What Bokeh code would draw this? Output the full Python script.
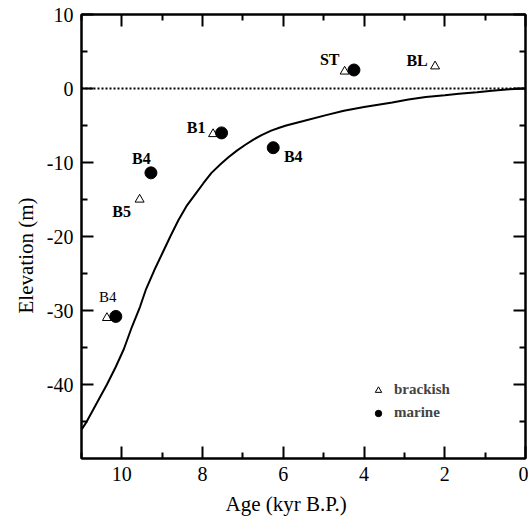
from bokeh.plotting import figure
from bokeh.models import Range1d, LinearAxis, FixedTicker, Span, Legend, LegendItem, ColumnDataSource, Title
from bokeh.core.properties import value
from bokeh.embed import file_html
from bokeh.resources import INLINE

# ---- data ----
curve_age = [11.0, 10.88, 10.6, 10.37, 10.15, 9.95, 9.75, 9.55, 9.4, 9.2, 9.0, 8.8, 8.6, 8.4,
             8.17, 7.98, 7.78, 7.55, 7.36, 7.15, 6.94, 6.74, 6.54, 6.3, 6.1, 5.93, 5.5, 4.94,
             4.5, 4.0, 3.3, 2.9, 2.47, 2.0, 1.65, 1.2, 0.83, 0.4, 0.0]
curve_elev = [-46.1, -45.1, -42.3, -40.0, -37.6, -35.2, -32.2, -29.5, -27.1, -24.6, -22.3, -20.0,
              -17.8, -15.9, -14.2, -12.8, -11.4, -10.2, -9.3, -8.4, -7.6, -6.9, -6.3, -5.7, -5.3,
              -5.0, -4.4, -3.6, -3.0, -2.5, -1.9, -1.5, -1.15, -0.9, -0.7, -0.5, -0.3, -0.1, 0.0]

marine_age = [10.15, 9.28, 7.53, 6.25, 4.25]
marine_elev = [-30.8, -11.4, -6.0, -8.0, 2.5]
brackish_age = [10.37, 9.56, 7.74, 4.48, 2.24]
brackish_elev = [-31.0, -15.0, -6.15, 2.3, 3.0]

# labels: (text, anchor kind, anchor index)
label_text = ["B4", "B4", "B5", "B1", "B4", "ST", "BL"]
label_kind = ["marine", "marine", "brackish", "brackish", "marine", "brackish", "brackish"]
label_index = [0, 1, 1, 2, 3, 3, 4]
label_bold = [False, True, True, True, True, True, True]

x_major = [10, 8, 6, 4, 2, 0]
x_minor = [11, 9, 7, 5, 3, 1]
y_major = [-40, -30, -20, -10, 0, 10]
y_minor = [-45, -35, -25, -15, -5, 5]

x_title = "Age (kyr B.P.)"
y_title = "Elevation (m)"

# ---- styles ----
label_dx = [-8, -9.5, -18, -17, 20, -15, -18]
label_dy = [-19, -14, 12, -7, 9, -12, -6]
FONT = "Liberation Serif"

p = figure(width=528, height=525, output_backend="svg", toolbar_location=None,
           x_range=Range1d(11, 0), y_range=Range1d(-50, 10),
           min_border_left=81, min_border_right=3, min_border_top=14, min_border_bottom=67)
p.grid.visible = False
p.outline_line_color = "black"
p.outline_line_width = 2
p.background_fill_color = None
p.border_fill_color = None

xt = FixedTicker(ticks=x_major, minor_ticks=x_minor)
yt = FixedTicker(ticks=y_major, minor_ticks=y_minor)

def style_axis(ax, ticks, labels=True):
    ax.axis_line_width = 2
    ax.axis_line_color = "black"
    ax.major_tick_in = 12
    ax.major_tick_out = 0
    ax.minor_tick_in = 6
    ax.minor_tick_out = 0
    ax.major_tick_line_width = 2
    ax.minor_tick_line_width = 2
    ax.major_tick_line_color = "black"
    ax.minor_tick_line_color = "black"
    ax.major_label_text_font = FONT
    ax.major_label_text_color = "black"
    if labels:
        ax.major_label_text_font_size = "20px"
        ax.major_label_overrides = {t: str(t) for t in ticks}
    else:
        ax.major_label_text_font_size = "0px"
        ax.major_label_overrides = {t: "" for t in ticks}
        ax.major_label_standoff = 0

xa = p.xaxis[0]
ya = p.yaxis[0]
xa.ticker = xt
ya.ticker = yt
style_axis(xa, x_major)
style_axis(ya, y_major)
xa.major_label_standoff = 8
ya.major_label_standoff = 8
ya.major_label_orientation = "horizontal"

top = LinearAxis(ticker=xt)
right = LinearAxis(ticker=yt)
style_axis(top, x_major, labels=False)
style_axis(right, y_major, labels=False)
p.add_layout(top, "above")
p.add_layout(right, "right")

# axis titles as side-panel titles (allow off-centre placement like the reference)
p.add_layout(Title(text=x_title, align="left", offset=144, standoff=12,
                   text_font=FONT, text_font_size="21px", text_font_style="normal",
                   text_color="black"), "below")
p.add_layout(Title(text=y_title, align="left", offset=145, standoff=12,
                   text_font=FONT, text_font_size="21px", text_font_style="normal",
                   text_color="black"), "left")

p.add_layout(Span(location=0, dimension="width", line_color="black",
                  line_width=2, line_dash="2 2"))

p.line(curve_age, curve_elev, line_color="black", line_width=2)

r_tri = p.scatter(brackish_age, brackish_elev, marker="triangle", size=9,
                  fill_color=None, line_color="black", line_width=1)
r_cir = p.scatter(marine_age, marine_elev, marker="circle", size=12,
                  fill_color="black", line_color="black")

lx, ly = [], []
for k, i in zip(label_kind, label_index):
    if k == "marine":
        lx.append(marine_age[i]); ly.append(marine_elev[i])
    else:
        lx.append(brackish_age[i]); ly.append(brackish_elev[i])

for bold in (True, False):
    idx = [j for j in range(len(label_text)) if label_bold[j] == bold]
    src = ColumnDataSource(dict(x=[lx[j] for j in idx], y=[ly[j] for j in idx],
                                t=[label_text[j] for j in idx],
                                dx=[label_dx[j] for j in idx], dy=[label_dy[j] for j in idx]))
    p.text(x="x", y="y", text="t", x_offset="dx", y_offset="dy", source=src,
           text_font=value(FONT), text_font_size="16px" if bold else "15px",
           text_font_style="bold" if bold else "normal",
           text_align="center", text_baseline="middle", text_color="black")

legend = Legend(items=[LegendItem(label="brackish", renderers=[r_tri]),
                       LegendItem(label="marine", renderers=[r_cir])],
                location=(289, 37))
legend.background_fill_alpha = 0
legend.border_line_alpha = 0
legend.padding = 0
legend.margin = 0
legend.spacing = 6
legend.glyph_height = 16
legend.glyph_width = 16
legend.label_height = 16
legend.label_standoff = 8
legend.label_text_font = FONT
legend.label_text_font_style = "bold"
legend.label_text_font_size = "15px"
p.add_layout(legend)

open("out.html", "w").write(file_html(p, INLINE))
